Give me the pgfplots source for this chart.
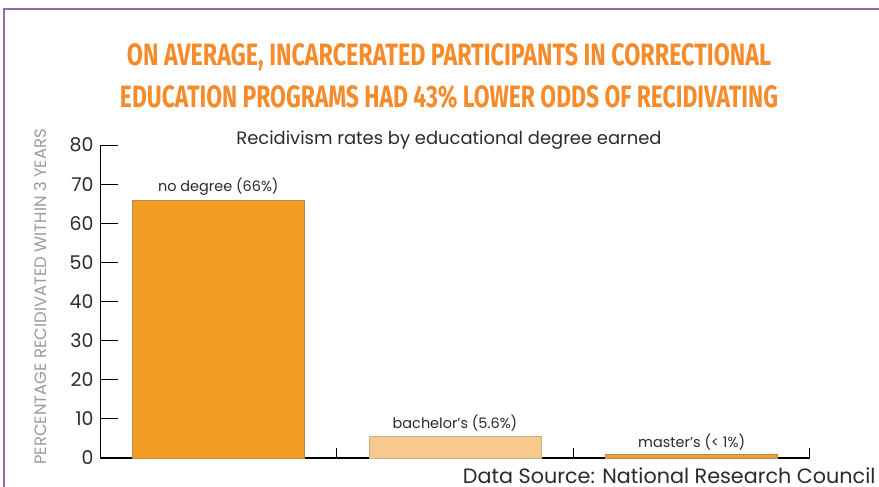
\documentclass[border=0pt]{standalone}
\usepackage{pgfplots}
\pgfplotsset{compat=1.18}
\usepackage{fontspec}
\setmainfont{Poppins}
\newfontfamily\titlefont{Fira Sans}
\definecolor{frame}{HTML}{8E6BB0}
\definecolor{ttl}{HTML}{F68B2C}
\definecolor{barA}{HTML}{F19D24}
\definecolor{barB}{HTML}{F8C98C}
\definecolor{barC}{HTML}{F0A02A}
\definecolor{edge}{HTML}{B98A55}
\definecolor{ylab}{HTML}{9A9A9A}
\definecolor{txt}{HTML}{2A2A2A}
\begin{document}
\begin{tikzpicture}[x=1bp,y=1bp]
\path[use as bounding box] (0,0) rectangle (879,487);
% frame
\draw[frame, line width=2.2bp] (4,0) -- (4,478) -- (879,478);
% title
\node[ttl, font=\titlefont\fontsize{31}{32}\selectfont\bfseries] at (449,430)
  {\resizebox{644bp}{\height}{ON AVERAGE, INCARCERATED PARTICIPANTS IN CORRECTIONAL}};
\node[ttl, font=\titlefont\fontsize{31}{32}\selectfont\bfseries] at (449,390)
  {\resizebox{658bp}{\height}{EDUCATION PROGRAMS HAD 43\% LOWER ODDS OF RECIDIVATING}};
% subtitle
\node[txt, font=\fontsize{18}{19}\selectfont] at (449,347) {Recidivism rates by educational degree earned};
% y label
\node[ylab, rotate=90, font=\fontsize{16.5}{17}\selectfont] at (40,190) {PERCENTAGE RECIDIVATED WITHIN 3 YEARS};
% source
\node[txt, anchor=base east, font=\fontsize{20.8}{21}\selectfont] at (879,3) {Data Source: National Research Council};
\begin{axis}[
  at={(100bp,29bp)}, anchor=south west,
  scale only axis, width=710bp, height=313bp,
  xmin=-0.5, xmax=2.5, ymin=0, ymax=80,
  axis x line=bottom, axis y line=left,
  axis line style={-, black},
  x axis line style={line width=1.8bp},
  y axis line style={line width=0.8bp},
  xtick={0.5,1.5,2.499}, xticklabels={},
  ytick={0,10,...,80},
  xtick align=inside, ytick align=inside,
  major tick length=10bp,
  xtick style={black, line width=0.8bp, yshift=10bp},
  ytick style={black, line width=0.8bp, xscale=1.8},
  yticklabel style={txt, font=\fontsize{19}{20}\selectfont, xshift=-3bp},
  /pgf/number format/assume math mode=true,
  ybar, bar width=0.727, bar shift=0pt,
  clip=false,
  nodes near coords style={txt, font=\fontsize{14.5}{15}\selectfont, anchor=south, yshift=1bp},
]
\addplot[fill=barA, draw=edge, line width=0.5bp,
  nodes near coords={no degree (66\%)}] coordinates {(0,66)};
\addplot[fill=barB, draw=edge!70, line width=0.5bp,
  nodes near coords={bachelor’s (5.6\%)}] coordinates {(1,5.6)};
\addplot[fill=barC, draw=edge, line width=0.5bp,
  nodes near coords={master’s (< 1\%)}] coordinates {(2,0.9)};
\end{axis}
\end{tikzpicture}
\end{document}
